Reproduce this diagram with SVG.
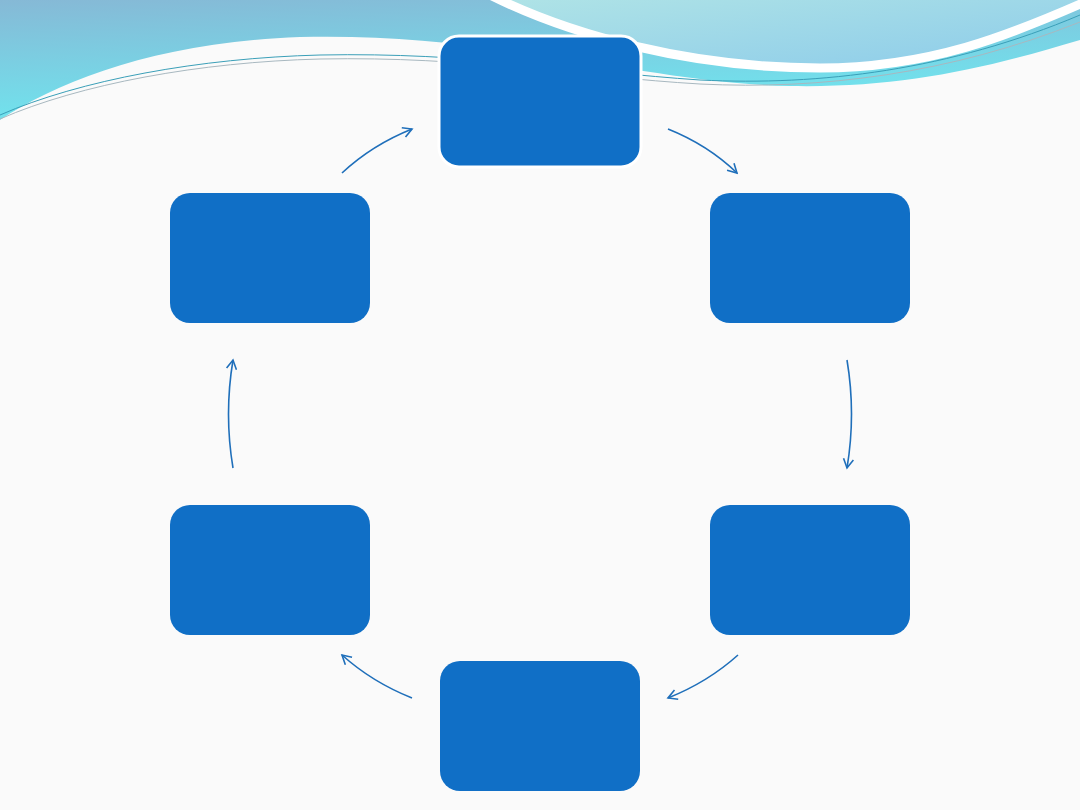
<svg xmlns="http://www.w3.org/2000/svg" width="1080" height="810" viewBox="0 0 1080 810">
<defs>
<linearGradient id="gA" x1="0" y1="0" x2="0.3" y2="1"><stop offset="0" stop-color="#86b9d6"/><stop offset="1" stop-color="#6fe6ef"/></linearGradient>
<linearGradient id="gB" x1="0" y1="0" x2="1" y2="1"><stop offset="0" stop-color="#b0e4e6"/><stop offset="1" stop-color="#8ccbea"/></linearGradient>
<marker id="ah" viewBox="0 0 12 12" refX="10" refY="6" markerWidth="12" markerHeight="12" markerUnits="userSpaceOnUse" orient="auto"><path d="M1,1 L10,6 L1,11" fill="none" stroke="#1f6fba" stroke-width="1.6"/></marker>
<style>
.n{fill:#106fc6}
.c{fill:none;stroke:#1f6fba;stroke-width:1.6;marker-end:url(#ah)}
</style>
</defs>
<rect width="1080" height="810" fill="#fafafa"/>
<g id="background">
<path d="M0,0 H1080 V40 C980,70 900,88 790,86 C650,84 500,32 300,37 C160,42 60,80 0,120 Z" fill="url(#gA)"/>
<path d="M0,115 C80,80 200,58 320,55 C470,52 580,72 700,80 C820,86 950,70 1080,15" fill="none" stroke="#3a9fb8" stroke-width="1"/>
<path d="M0,119 C80,84 200,62 320,59 C470,56 580,77 700,84 C820,90 950,74 1080,22" fill="none" stroke="#a8b8c0" stroke-width="1"/>
<path d="M490,-5 C570,35 690,68 820,68 C930,68 1010,35 1085,2 V-5 Z" fill="url(#gB)" stroke="#ffffff" stroke-width="9"/>
</g>
<g id="nodes">
<rect id="n1" class="n" x="439" y="36" width="202" height="131" rx="20" stroke="#ffffff" stroke-width="3"/>
<rect id="n2" class="n" x="710" y="193" width="200" height="130" rx="20"/>
<rect id="n3" class="n" x="710" y="505" width="200" height="130" rx="20"/>
<rect id="n4" class="n" x="440" y="661" width="200" height="130" rx="20"/>
<rect id="n5" class="n" x="170" y="505" width="200" height="130" rx="20"/>
<rect id="n6" class="n" x="170" y="193" width="200" height="130" rx="20"/>
</g>
<g id="connectors">
<path class="c" d="M342,173 Q372,145 412,129"/>
<path class="c" d="M668,129 Q708,145 737,173"/>
<path class="c" d="M847,360 Q856,414 847,468"/>
<path class="c" d="M738,655 Q708,682 668,698"/>
<path class="c" d="M412,698 Q372,682 342,655"/>
<path class="c" d="M233,468 Q224,414 233,360"/>
</g>
</svg>
